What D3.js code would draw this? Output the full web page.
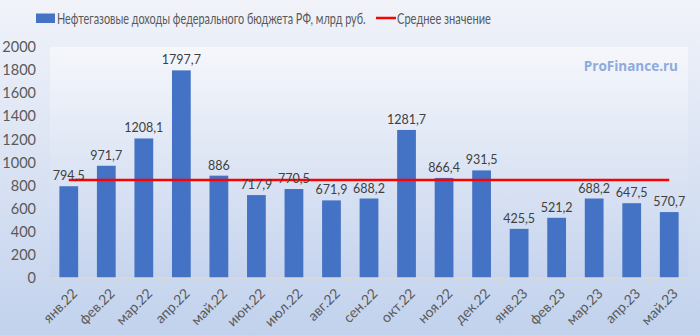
<!DOCTYPE html>
<html>
<head>
<meta charset="utf-8">
<script src="https://cdn.jsdelivr.net/npm/d3@7"></script>
<style>
  html, body { margin: 0; padding: 0; }
  body { width: 700px; height: 335px; overflow: hidden; }
  svg { display: block; font-family: Lato, "Open Sans", sans-serif; }
</style>
</head>
<body>
<svg id="chart" width="700" height="335"></svg>
<script>
// Monthly oil & gas revenues of the federal budget, bn rubles
const months = ["янв.22","фев.22","мар.22","апр.22","май.22","июн.22","июл.22","авг.22","сен.22",
                "окт.22","ноя.22","дек.22","янв.23","фев.23","мар.23","апр.23","май.23"];
const revenues = [794.5, 971.7, 1208.1, 1797.7, 886, 717.9, 770.5, 671.9, 688.2,
                  1281.7, 866.4, 931.5, 425.5, 521.2, 688.2, 647.5, 570.7];
const yTicks = [0, 200, 400, 600, 800, 1000, 1200, 1400, 1600, 1800, 2000];
const seriesName = "Нефтегазовые доходы федерального бюджета РФ, млрд руб.";
const averageName = "Среднее значение";
const average = d3.mean(revenues);

const W = 700, H = 335;
const plot = { left: 50, right: 688, top: 47, bottom: 278 };

const svg = d3.select("#chart");
const defs = svg.append("defs");

const bgGrad = defs.append("linearGradient").attr("id", "bg").attr("x1", 0).attr("y1", 0).attr("x2", 0).attr("y2", 1);
bgGrad.append("stop").attr("offset", "0%").attr("stop-color", "#f1f3f9");
bgGrad.append("stop").attr("offset", "100%").attr("stop-color", "#c2d2ed");

const plotGrad = defs.append("linearGradient").attr("id", "plotbg").attr("x1", 0).attr("y1", 0).attr("x2", 0).attr("y2", 1);
plotGrad.append("stop").attr("offset", "0%").attr("stop-color", "#f5f7fb");
plotGrad.append("stop").attr("offset", "100%").attr("stop-color", "#c6d4ee");

svg.append("rect").attr("width", W).attr("height", H).attr("fill", "url(#bg)");
svg.append("rect")
  .attr("x", plot.left).attr("y", plot.top)
  .attr("width", plot.right - plot.left).attr("height", plot.bottom - plot.top)
  .attr("fill", "url(#plotbg)");

const x = d3.scaleBand().domain(months).range([plot.left, plot.right]).paddingInner(0.5).paddingOuter(0.25);
const y = d3.scaleLinear().domain([0, 2000]).range([plot.bottom, plot.top]);

// Bars
svg.append("g").selectAll("rect").data(revenues).join("rect")
  .attr("x", (d, i) => x(months[i]))
  .attr("y", d => y(d))
  .attr("width", x.bandwidth())
  .attr("height", d => y(0) - y(d))
  .attr("fill", "#4472c4");

// Average line across category centres
const line = d3.line().x(d => x(d) + x.bandwidth() / 2).y(() => y(average));
svg.append("path").datum(months)
  .attr("d", line)
  .attr("fill", "none").attr("stroke", "#ff0000").attr("stroke-width", 2.5);

// Value labels
const fmt = v => String(v).replace(".", ",");
svg.append("g").selectAll("text").data(revenues).join("text")
  .attr("x", (d, i) => x(months[i]) + x.bandwidth() / 2)
  .attr("y", d => y(d) - 6)
  .attr("text-anchor", "middle")
  .attr("font-size", 12.5)
  .attr("fill", "#404040")
  .text(fmt);

// Y axis
const yAxis = d3.axisLeft(y).tickValues(yTicks).tickFormat(d3.format("d")).tickSize(0).tickPadding(14);
const gy = svg.append("g").attr("transform", `translate(${plot.left},0)`).call(yAxis);
gy.select(".domain").remove();
gy.selectAll("text").attr("font-size", 14.5).attr("fill", "#595959").attr("font-family", "Lato, sans-serif");

// X axis
const gx = svg.append("g").attr("transform", `translate(0,${plot.bottom})`);
gx.append("line").attr("x1", plot.left).attr("x2", plot.right).attr("y1", 0).attr("y2", 0)
  .attr("stroke", "#d9d9d9").attr("stroke-width", 1.5);
const boundaries = d3.range(months.length + 1).map(i => plot.left + i * (plot.right - plot.left) / months.length);
gx.selectAll("line.tick").data(boundaries).join("line").attr("class", "tick")
  .attr("x1", d => d).attr("x2", d => d).attr("y1", 0).attr("y2", 5)
  .attr("stroke", "#d9d9d9").attr("stroke-width", 1);
gx.selectAll("text").data(months).join("text")
  .attr("transform", d => `translate(${x(d) + x.bandwidth() / 2 + 6},${13}) rotate(-45)`)
  .attr("text-anchor", "end")
  .attr("dy", "0.35em")
  .attr("font-size", 14)
  .attr("fill", "#595959")
  .text(d => d);

// Legend label placed at (x0, yc) and narrowed horizontally to the given width
function legendLabel(g, x0, yc, width, label) {
  const t = g.append("text").attr("x", 0).attr("y", 0).attr("dy", "0.35em")
    .attr("font-size", 14.5).attr("fill", "#595959").text(label);
  const natural = t.node().getComputedTextLength();
  const sx = Math.min(1, width / natural);
  t.attr("transform", `translate(${x0},${yc}) scale(${sx},1)`);
  return t;
}

const lg = svg.append("g");
lg.append("rect").attr("x", 36).attr("y", 13.5).attr("width", 19).attr("height", 9.5).attr("fill", "#4472c4");
legendLabel(lg, 57, 18.5, 309, seriesName);
lg.append("line").attr("x1", 376).attr("x2", 396).attr("y1", 18).attr("y2", 18)
  .attr("stroke", "#ff0000").attr("stroke-width", 2.5);
legendLabel(lg, 397, 18.5, 94, averageName);

// Watermark
svg.append("text").attr("x", 678).attr("y", 66).attr("dy", "0.35em")
  .attr("text-anchor", "end")
  .attr("font-size", 13.5).attr("font-weight", "bold")
  .attr("font-family", "'Open Sans', sans-serif")
  .attr("fill", "#8eaadc")
  .text("ProFinance.ru");
</script>
</body>
</html>
